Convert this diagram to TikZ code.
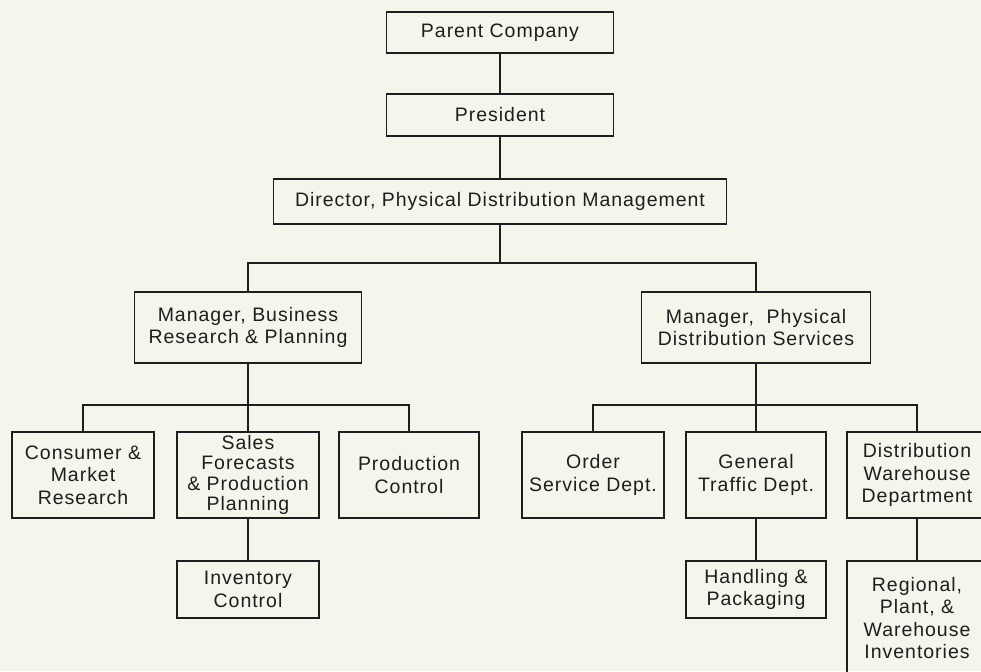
\documentclass[tikz,border=0pt]{standalone}
\usepackage{fontspec}
\setmainfont{Liberation Sans}[LetterSpace=5]
\definecolor{paper}{HTML}{F6F5EB}
\definecolor{ink}{HTML}{1E1E1E}
\tikzset{
  orgbox/.style={draw=ink, line width=1.4pt, rectangle, inner sep=0pt, align=center,
    text=ink, font=\fontsize{19.5pt}{22.5pt}\selectfont},
  link/.style={draw=ink, line width=1.4pt},
}
\begin{document}
\begin{tikzpicture}[x=1pt, y=-1pt]
  \fill[paper] (0,0) rectangle (981,671);
  \useasboundingbox (0,0) rectangle (981,671);
  \clip (0,0) rectangle (981,671);

  % upper chain of command
  \node[orgbox, minimum width=227pt, minimum height=41pt] (parent) at (500,32.5) {Parent Company};
  \node[orgbox, minimum width=227pt, minimum height=42pt] (president) at (500,115) {President};
  \node[orgbox, minimum width=453pt, minimum height=45pt] (director) at (500,201.5) {Director, Physical Distribution Management};

  % managers
  \node[orgbox, minimum width=227pt, minimum height=71pt] (mgrL) at (248,327.5) {Manager, Business\\Research \& Planning};
  \node[orgbox, minimum width=229pt, minimum height=71pt] (mgrR) at (756,327.5) {Manager,\ \ Physical\\Distribution Services};

  % departments under business research & planning
  \node[orgbox, minimum width=142pt, minimum height=86pt] (consumer) at (83,475) {Consumer \&\\Market\\Research};
  \node[orgbox, minimum width=142pt, minimum height=86pt, font=\fontsize{19.5pt}{20.5pt}\selectfont] (sales) at (248,475) {Sales\\Forecasts\\\& Production\\Planning};
  \node[orgbox, minimum width=140pt, minimum height=86pt] (prodctl) at (409,475) {Production\\Control};
  \node[orgbox, minimum width=142pt, minimum height=57pt] (inventory) at (248,589.5) {Inventory\\Control};

  % departments under physical distribution services
  \node[orgbox, minimum width=142pt, minimum height=86pt] (order) at (593,475) {Order\\Service Dept.};
  \node[orgbox, minimum width=140pt, minimum height=86pt] (traffic) at (756,475) {General\\Traffic Dept.};
  \node[orgbox, minimum width=140pt, minimum height=86pt] (distwh) at (917,475) {Distribution\\Warehouse\\Department};
  \node[orgbox, minimum width=140pt, minimum height=57pt] (handling) at (756,589.5) {Handling \&\\Packaging};
  \node[orgbox, minimum width=140pt, minimum height=114pt] (regional) at (917,618) {Regional,\\Plant, \&\\Warehouse\\Inventories};

  % bus bars
  \coordinate (topbus) at (500,263);
  \coordinate (lbus) at (248,405);
  \coordinate (rbus) at (756,405);

  % connectors
  \draw[link] (parent.south) -- (president.north);
  \draw[link] (president.south) -- (director.north);
  \draw[link] (director.south) -- (topbus);
  \draw[link] (mgrL.north) |- (topbus) -| (mgrR.north);

  \draw[link] (mgrL.south) -- (sales.north);
  \draw[link] (consumer.north) |- (lbus) -| (prodctl.north);
  \draw[link] (sales.south) -- (inventory.north);

  \draw[link] (mgrR.south) -- (traffic.north);
  \draw[link] (order.north) |- (rbus) -| (distwh.north);
  \draw[link] (traffic.south) -- (handling.north);
  \draw[link] (distwh.south) -- (regional.north);
\end{tikzpicture}
\end{document}
